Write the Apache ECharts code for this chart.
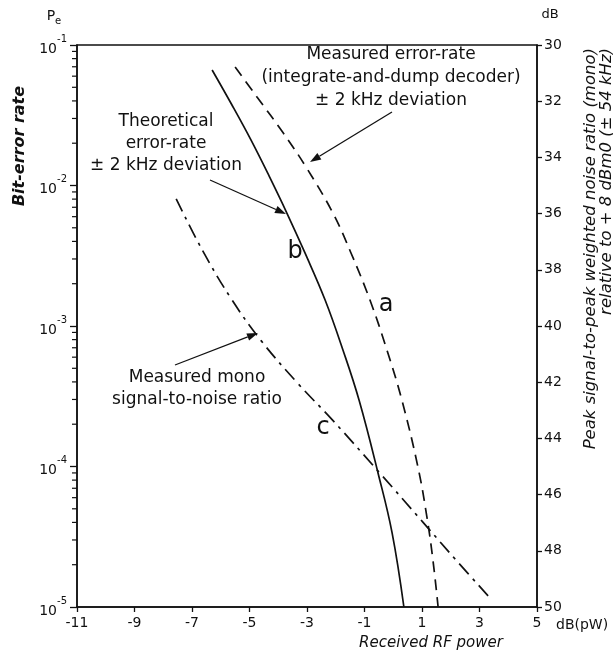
<!DOCTYPE html>
<html>
<head>
<meta charset="utf-8">
<script src="https://cdn.jsdelivr.net/npm/echarts@6/dist/echarts.min.js"></script>
<style>
html,body{margin:0;padding:0;background:#fff}
#main{width:613px;height:655px}
</style>
</head>
<body>
<div id="main"></div>
<script>
// 横轴 (dB(pW)) 刻度
var xTicks = [-11, -9, -7, -5, -3, -1, 1, 3, 5];
// 右轴 (dB) 刻度
var dbTicks = [30, 32, 34, 36, 38, 40, 42, 44, 46, 48, 50];

// 曲线 a : 实测误码率 (integrate-and-dump)
var powerA = [-5.50, -4.74, -3.83, -3.03, -2.10, -1.47, -0.81, -0.22, 0.30, 0.86, 1.17, 1.38, 1.56];
var peA    = [0.0697, 0.0427, 0.0237, 0.0135, 0.00637, 0.00331, 0.00153, 6.75e-4, 2.97e-4, 9.9e-5, 4.38e-5, 2.16e-5, 1.0e-5];

// 曲线 b : 理论误码率
var powerB = [-6.30, -5.61, -4.95, -4.32, -3.70, -3.07, -2.37, -1.75, -1.19, -0.53, -0.04, 0.37];
var peB    = [0.0664, 0.0374, 0.0211, 0.0117, 0.00637, 0.00331, 0.00153, 6.75e-4, 2.97e-4, 9.0e-5, 3.37e-5, 1.0e-5];

// 曲线 c : 实测单声道信噪比 (右轴 dB)
var powerC = [-7.55, -6.64, -5.63, -4.59, -3.33, -2.11, -0.47, 1.03, 2.21, 3.43];
var snrC   = [35.48, 37.30, 39.04, 40.53, 42.03, 43.35, 45.23, 46.98, 48.36, 49.75];

function zip(a, b){
    var out = [];
    for (var i = 0; i < a.length; i++) out.push([a[i], b[i]]);
    return out;
}

// 对数轴次刻度 (2..9 x 10^k)
var minorTicks = [];
for (var k = -5; k < -1; k++) {
    for (var m = 2; m <= 9; m++) minorTicks.push([-11, m * Math.pow(10, k)]);
}

var FONT = '"DejaVu Sans", "Liberation Sans", sans-serif';
var INK = '#111';

function arrow(x1, y1, x2, y2){
    var a = Math.atan2(y2 - y1, x2 - x1), L = 11, W = 3.8;
    var bx = x2 - L * Math.cos(a), by = y2 - L * Math.sin(a);
    return [
        {type: 'line', shape: {x1: x1, y1: y1, x2: bx, y2: by}, style: {stroke: INK, lineWidth: 1.3}},
        {type: 'polygon', shape: {points: [[x2, y2], [bx + W * Math.sin(a), by - W * Math.cos(a)], [bx - W * Math.sin(a), by + W * Math.cos(a)]]}, style: {fill: INK}}
    ];
}

function txt(x, y, s, size, opt){
    opt = opt || {};
    return {
        type: 'text', x: x, y: y, rotation: opt.rotation || 0,
        style: {
            text: s, fill: INK,
            font: (opt.style || 'normal') + ' ' + (opt.weight || 'normal') + ' ' + size + 'px ' + FONT,
            textAlign: opt.align || 'center',
            textVerticalAlign: opt.valign || 'middle',
            lineHeight: opt.lineHeight || size + 6
        }
    };
}

var graphics = [
    txt(391, 43, 'Measured error-rate\n(integrate-and-dump decoder)\n\u00b1 2 kHz deviation', 17, {valign: 'top', lineHeight: 23}),
    txt(166, 111, 'Theoretical\nerror-rate\n\u00b1 2 kHz deviation', 17, {valign: 'top', lineHeight: 22}),
    txt(197, 367, 'Measured mono\nsignal-to-noise ratio', 17, {valign: 'top', lineHeight: 22}),
    txt(295, 252, 'b', 24),
    txt(386, 305, 'a', 24),
    txt(323, 428, 'c', 24),
    txt(20, 146, 'Bit-error rate', 16, {rotation: Math.PI / 2, style: 'italic', weight: 'bold'}),
    txt(599, 48, 'Peak signal-to-peak weighted noise ratio (mono)\nrelative to + 8 dBm0 (\u00b1 54 kHz)', 16.5, {rotation: Math.PI / 2, style: 'italic', align: 'right', lineHeight: 16}),
    txt(431, 643, 'Received RF power', 15, {style: 'italic'}),
    txt(556, 625, 'dB(pW)', 14, {align: 'left'}),
    txt(550, 15, 'dB', 13),
    txt(51, 16, 'P', 14),
    txt(58, 21, 'e', 10)
].concat(arrow(392, 112, 310, 162), arrow(210, 180, 286, 214), arrow(175, 365, 258, 333));

var myChart = echarts.init(document.getElementById('main'));
var option = {
    animation: false,
    backgroundColor: '#fff',
    grid: {left: 77, right: 76, top: 45, bottom: 48, show: true, borderColor: INK, borderWidth: 1.5},
    xAxis: {
        type: 'value', min: -11, max: 5, interval: 2,
        axisLine: {onZero: false, lineStyle: {color: INK, width: 1.5}},
        axisTick: {length: 5, lineStyle: {color: INK, width: 1.3}},
        splitLine: {show: false},
        axisLabel: {color: INK, fontSize: 14, fontFamily: FONT, margin: 9}
    },
    yAxis: [{
        type: 'log', logBase: 10, min: 1e-5, max: 1e-1,
        axisLine: {onZero: false, lineStyle: {color: INK, width: 1.5}},
        axisTick: {length: 7, lineStyle: {color: INK, width: 1.3}},
        splitLine: {show: false},
        axisLabel: {
            color: INK, fontFamily: FONT, margin: 10,
            formatter: function(v){
                var e = Math.round(Math.log(v) / Math.LN10);
                return '{b|10}{s|' + e + '}';
            },
            rich: {
                b: {fontSize: 14, lineHeight: 22, verticalAlign: 'bottom', fontFamily: FONT, color: INK},
                s: {fontSize: 10, lineHeight: 12, verticalAlign: 'top', fontFamily: FONT, color: INK}
            }
        }
    }, {
        type: 'value', min: 30, max: 50, interval: 2, inverse: true, position: 'right',
        axisLine: {show: true, onZero: false, lineStyle: {color: INK, width: 1.5}},
        axisTick: {show: true, length: 5, lineStyle: {color: INK, width: 1.3}},
        splitLine: {show: false},
        axisLabel: {color: INK, fontSize: 14, fontFamily: FONT, margin: 7}
    }],
    series: [{
        name: 'a', type: 'line', smooth: 0.4, showSymbol: false, yAxisIndex: 0,
        data: zip(powerA, peA),
        lineStyle: {color: INK, width: 1.7, type: [11, 7]}
    }, {
        name: 'b', type: 'line', smooth: 0.4, showSymbol: false, yAxisIndex: 0,
        data: zip(powerB, peB),
        lineStyle: {color: INK, width: 1.7}
    }, {
        name: 'c', type: 'line', smooth: 0.4, showSymbol: false, yAxisIndex: 1,
        data: zip(powerC, snrC),
        lineStyle: {color: INK, width: 1.7, type: [14, 6, 3, 6]}
    }, {
        // 左轴次刻度
        type: 'custom', yAxisIndex: 0, clip: false, silent: true,
        data: minorTicks,
        renderItem: function(params, api){
            var p = api.coord([api.value(0), api.value(1)]);
            return {type: 'line', shape: {x1: p[0] - 5, y1: p[1], x2: p[0], y2: p[1]}, style: {stroke: INK, lineWidth: 1.2}};
        }
    }],
    graphic: graphics
};
myChart.setOption(option);
</script>
</body>
</html>
